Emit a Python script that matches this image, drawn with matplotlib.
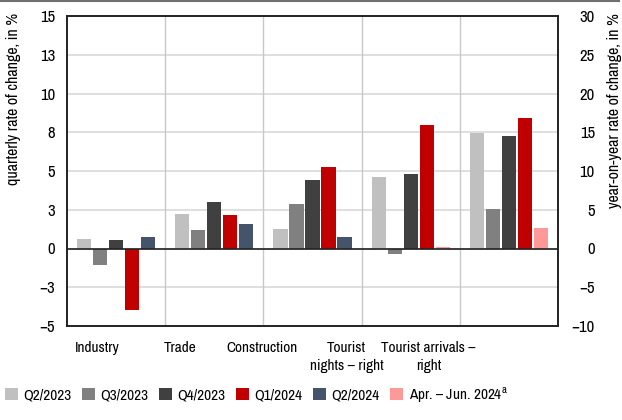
import matplotlib
matplotlib.use('Agg')
import matplotlib.pyplot as plt
from matplotlib import font_manager
from matplotlib.patches import Patch
from matplotlib.lines import Line2D
import numpy as np

names = set(f.name for f in font_manager.fontManager.ttflist)
fam = 'Liberation Sans'
for cand in ['Liberation Sans Narrow', 'Arial Narrow', 'Archivo Narrow', 'PT Sans Narrow',
             'Roboto Condensed', 'Asap Condensed']:
    if cand in names:
        fam = cand
        break
plt.rcParams['font.family'] = [fam, 'DejaVu Sans']
plt.rcParams['mathtext.fontset'] = 'custom'
plt.rcParams['mathtext.rm'] = fam

# data
categories = ['Industry', 'Trade', 'Construction', 'Tourist\nnights – right', 'Tourist arrivals –\nright']
series = ['Q2/2023', 'Q3/2023', 'Q4/2023', 'Q1/2024', 'Q2/2024', 'Apr. – Jun. 2024$^\\mathrm{a}$']
colors = ['#c0c0c0', '#808080', '#404040', '#c00000', '#44546a', '#ff9999']

# quarterly rates (left axis): Industry, Trade, Construction
q2_2023_left = [0.62, 2.24, 1.29]
q3_2023_left = [-1.05, 1.20, 2.84]
q4_2023_left = [0.52, 3.01, 4.39]
q1_2024_left = [-3.96, 2.17, 5.23]
q2_2024_left = [0.75, 1.59, 0.77]

# year-on-year rates (right axis): Tourist nights, Tourist arrivals
q2_2023_right = [9.25, 14.88]
q3_2023_right = [-0.65, 5.12]
q4_2023_right = [9.63, 14.54]
q1_2024_right = [15.96, 16.86]
aprjun_2024_right = [0.20, 2.67]

left_ticks = [-5, -2.5, 0, 2.5, 5, 7.5, 10, 12.5, 15]
left_labels = ['−5', '−3', '0', '3', '5', '8', '10', '13', '15']
right_ticks = [-10, -5, 0, 5, 10, 15, 20, 25, 30]
right_labels = ['−10', '−5', '0', '5', '10', '15', '20', '25', '30']

W, H = 622, 420
fig = plt.figure(figsize=(W / 100, H / 100), dpi=100)
ax = fig.add_axes([67 / W, 1 - 326 / H, (558 - 67) / W, (326 - 16) / H])
ax2 = ax.twinx()

width = 0.143
step = 0.163
xl = np.arange(3)
xr = np.arange(3, 5)
left_vals = [q2_2023_left, q3_2023_left, q4_2023_left, q1_2024_left, q2_2024_left]
right_vals = [q2_2023_right, q3_2023_right, q4_2023_right, q1_2024_right, aprjun_2024_right]
right_cols = colors[:4] + [colors[5]]
for j in range(5):
    ax.bar(xl + (j - 2) * step, left_vals[j], width, color=colors[j], zorder=3)
    ax2.bar(xr + (j - 2) * step, right_vals[j], width, color=right_cols[j], zorder=3)

ax.set_xlim(-0.5, 4.5)
ax.set_ylim(-5, 15)
ax2.set_ylim(-10, 30)
ax.set_yticks(left_ticks, left_labels)
ax2.set_yticks(right_ticks, right_labels)
for t in left_ticks:
    ax.axhline(t, color='#dcdcdc', lw=1.3, zorder=1)
for i in range(4):
    ax.axvline(i + 0.5, color='#c8c8c8', lw=1.0, zorder=1)
ax2.axhline(0, color='#222222', lw=1.2, zorder=5)

# category labels are set off to the left in the original
label_pos = [-0.19, 0.655, 1.49, 2.345, 3.18]
ax.set_xticks(label_pos, categories, linespacing=1.35)
ax.tick_params(axis='x', length=0, pad=11, labelsize=11)
ax.tick_params(axis='y', length=0, pad=8.5, labelsize=12)
ax2.tick_params(axis='y', length=0, pad=26.5, labelsize=12)
for lab in ax2.get_yticklabels():
    lab.set_horizontalalignment('right')

for a in (ax, ax2):
    for s in a.spines.values():
        s.set_color('#222222')
        s.set_linewidth(1.2)

ax.set_ylabel('quarterly rate of change, in %', loc='top', fontsize=11.5)
ax2.set_ylabel('year-on-year rate of change, in %', loc='top', fontsize=11.5)
ax.yaxis.set_label_coords(-0.094, 1.01)
ax2.yaxis.set_label_coords(1.10, 1.01)

fig.add_artist(Line2D([0, 619 / W], [1 - 1 / H, 1 - 1 / H], color='#707070', lw=1.5))

handles = [Patch(facecolor=c, edgecolor='none') for c in colors]
fig.legend(handles, series, loc='center left', bbox_to_anchor=(5 / W, 1 - 395 / H),
           ncol=6, frameon=False, fontsize=11, handlelength=0.85, handleheight=0.85,
           handletextpad=0.35, columnspacing=0.7, borderpad=0, borderaxespad=0)

fig.savefig('out.png', dpi=100)
